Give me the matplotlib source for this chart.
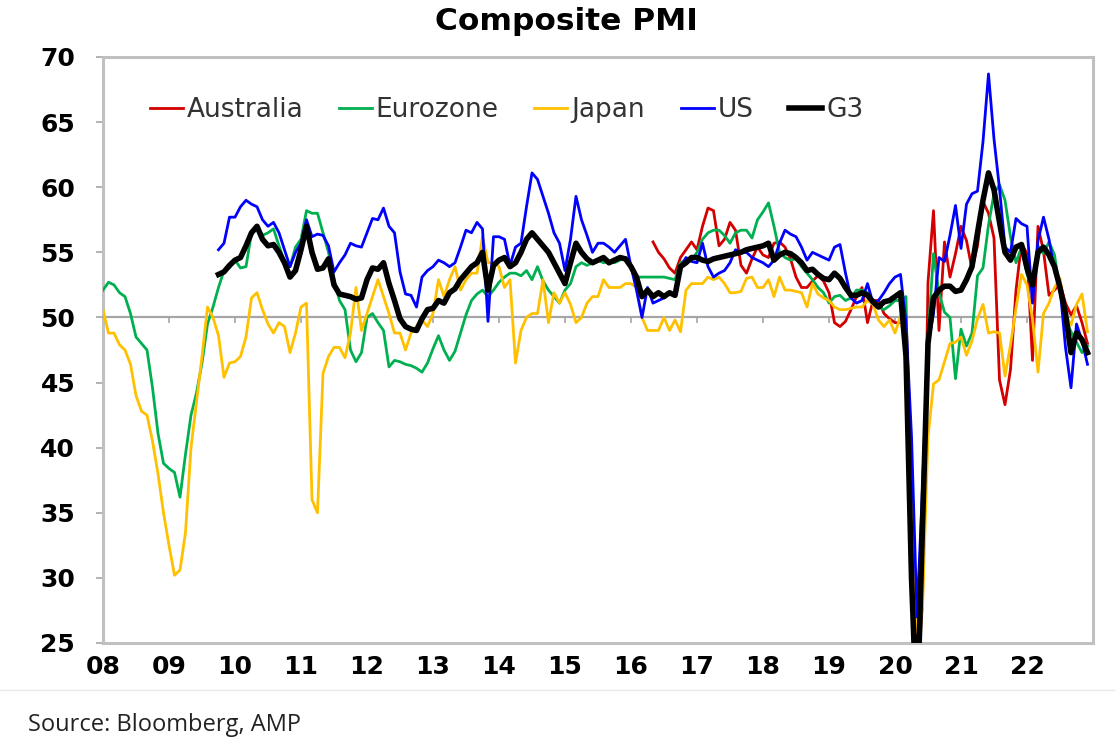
import numpy as np
import pandas as pd
import matplotlib
matplotlib.use("Agg")
import matplotlib.pyplot as plt
from matplotlib.lines import Line2D

# Monthly composite PMI readings, month-end, first value = Dec 2007
JAPAN_START = "2007-12"
japan = [
    50.6, 48.8, 48.8, 47.9, 47.5, 46.4, 44.0, 42.8, 42.5, 40.5, 38.0, 35.0,
    32.5, 30.2, 30.6, 33.5, 40.0, 43.5, 47.0, 50.8, 50.0, 48.6, 45.4, 46.5,
    46.6, 47.0, 48.5, 51.5, 51.9, 50.6, 49.5, 48.8, 49.6, 49.3, 47.3, 48.8,
    50.8, 51.1, 36.0, 35.0, 45.7, 47.0, 47.7, 47.7, 46.9, 48.8, 52.3, 49.0,
    50.3, 51.6, 52.9, 51.6, 50.3, 48.8, 48.8, 47.5, 48.8, 49.3, 49.8, 49.3,
    50.3, 52.9, 51.6, 52.9, 53.9, 52.1, 52.9, 53.4, 53.4, 56.2, 54.2, 54.2,
    53.9, 52.3, 52.9, 46.5, 49.0, 50.0, 50.3, 50.3, 52.9, 49.6, 51.9, 51.1,
    51.9, 51.0, 49.6, 50.0, 51.1, 51.6, 51.6, 52.9, 52.3, 52.3, 52.3, 52.6,
    52.6, 52.3, 50.0, 49.0, 49.0, 49.0, 50.0, 49.0, 49.8, 48.9, 52.1, 52.6,
    52.6, 52.6, 53.1, 52.9, 53.1, 52.6, 51.9, 51.9, 52.0, 53.0, 53.1, 52.3,
    52.3, 52.9, 51.6, 53.1, 52.1, 52.1, 52.0, 51.9, 50.8, 52.6, 51.8, 51.5,
    51.3, 50.8, 50.6, 50.6, 50.7, 50.8, 50.8, 51.3, 51.0, 49.8, 49.3, 49.8,
    48.8, 50.1, 47.0, 36.2, 25.8, 27.8, 40.8, 44.9, 45.2, 46.6, 48.0, 48.1,
    48.5, 47.1, 48.2, 49.9, 51.0, 48.8, 48.9, 48.8, 45.5, 47.9, 50.7, 53.3,
    52.5, 49.9, 45.8, 50.3, 51.1, 52.3, 53.0, 50.2, 49.4, 51.0, 51.8, 48.9,
]

EUROZONE_START = "2007-12"
eurozone = [
    52.1, 52.7, 52.5, 51.9, 51.6, 50.3, 48.5, 48.0, 47.5, 44.6, 41.1, 38.8,
    38.4, 38.1, 36.2, 39.5, 42.5, 44.2, 46.5, 49.5, 50.8, 52.3, 53.6, 53.8,
    54.4, 53.8, 53.9, 56.5, 57.0, 56.3, 56.5, 56.8, 55.5, 54.3, 53.9, 55.4,
    56.0, 58.2, 58.0, 58.0, 56.5, 55.0, 52.9, 51.3, 50.6, 47.5, 46.6, 47.3,
    50.0, 50.3, 49.6, 49.0, 46.2, 46.7, 46.6, 46.4, 46.3, 46.1, 45.8, 46.5,
    47.6, 48.6, 47.5, 46.7, 47.4, 48.8, 50.2, 51.3, 51.8, 52.1, 51.6, 52.1,
    52.7, 53.1, 53.4, 53.4, 53.2, 53.6, 52.9, 53.9, 52.8, 52.1, 51.6, 51.1,
    52.1, 52.6, 53.9, 54.2, 54.0, 54.2, 54.4, 54.2, 54.3, 54.2, 54.4, 54.6,
    53.9, 53.1, 53.1, 53.1, 53.1, 53.1, 53.1, 53.0, 52.9, 54.2, 54.4, 54.4,
    55.0, 56.0, 56.5, 56.7, 56.7, 56.3, 55.7, 56.5, 56.7, 56.7, 56.1, 57.5,
    58.1, 58.8, 57.0, 55.0, 54.6, 54.4, 54.5, 53.9, 53.4, 52.9, 52.3, 51.9,
    51.1, 51.6, 51.7, 51.3, 51.5, 52.1, 52.1, 51.9, 51.3, 50.8, 50.6, 50.9,
    51.3, 51.3, 51.6, 29.7, 13.6, 31.9, 48.5, 54.9, 51.9, 50.4, 50.0, 45.3,
    49.1, 47.8, 48.8, 53.2, 53.8, 57.1, 59.5, 60.2, 59.0, 56.2, 54.2, 55.4,
    53.3, 52.3, 55.5, 54.9, 55.8, 54.8, 52.0, 49.9, 48.9, 48.1, 47.3, 47.8,
]

US_START = "2009-09"
us = [
    55.2, 55.7, 57.7,
    57.7, 58.5, 59.0, 58.7, 58.5, 57.5, 57.0, 57.3, 56.5, 55.2, 53.9, 55.0,
    55.7, 57.5, 56.2, 56.4, 56.3, 55.5, 53.5, 54.2, 54.8, 55.7, 55.5, 55.4,
    56.5, 57.6, 57.5, 58.4, 57.0, 56.5, 53.5, 51.8, 51.7, 50.8, 53.1, 53.6,
    53.9, 54.4, 54.2, 53.9, 54.2, 55.4, 56.7, 56.5, 57.3, 56.8, 49.7, 56.2,
    56.2, 56.0, 54.0, 55.4, 55.7, 58.5, 61.1, 60.6, 59.3, 58.0, 56.5, 55.7,
    53.6, 56.0, 59.3, 57.5, 56.3, 55.0, 55.7, 55.7, 55.4, 55.0, 55.5, 56.0,
    53.9, 52.1, 50.0, 52.3, 51.1, 51.3, 51.5, 51.9, 51.6, 53.9, 54.6, 54.3,
    54.2, 55.7, 53.9, 53.1, 53.4, 53.6, 54.2, 55.2, 55.0, 55.0, 54.6, 54.4,
    54.2, 53.9, 54.4, 55.7, 56.7, 56.4, 56.2, 55.4, 54.4, 55.0, 54.8, 54.6,
    54.4, 55.4, 55.6, 53.4, 51.5, 51.1, 51.3, 52.6, 51.1, 51.3, 51.9, 52.6,
    53.1, 53.3, 49.6, 40.9, 27.0, 37.0, 47.9, 50.3, 54.6, 54.3, 56.3, 58.6,
    55.3, 58.7, 59.5, 59.7, 63.5, 68.7, 63.7, 59.9, 55.4, 55.0, 57.6, 57.2,
    57.0, 51.1, 55.9, 57.7, 56.0, 53.6, 52.3, 47.7, 44.6, 49.5, 48.2, 46.4,
]

AUSTRALIA_START = "2016-04"
australia = [
    55.8, 55.0, 54.5, 53.8, 53.4, 54.6, 55.2, 55.8,
    55.2, 57.0, 58.4, 58.2, 55.5, 56.0, 57.3, 56.7, 54.0, 53.4, 54.5, 55.4,
    54.8, 54.6, 55.7, 55.8, 55.4, 54.5, 53.1, 52.3, 52.3, 52.8, 53.2, 52.8,
    51.9, 49.6, 49.3, 49.7, 50.6, 51.6, 52.3, 49.6, 51.3, 51.3, 50.3, 49.9,
    49.6, 49.6, 50.2, 38.5, 21.7, 28.1, 52.7, 58.2, 49.0, 55.8, 53.1, 54.9,
    57.0, 55.9, 53.7, 55.5, 58.9, 58.0, 56.1, 45.2, 43.3, 46.0, 52.1, 55.7,
    54.9, 46.7, 57.0, 55.1, 51.7, 52.1, 52.6, 51.1, 50.2, 50.9, 49.6, 48.0,
]

G3_START = "2009-09"
g3 = [
    53.3, 53.5, 54.0,
    54.4, 54.6, 55.5, 56.5, 57.0, 56.0, 55.5, 55.6, 55.0, 54.2, 53.1, 53.6,
    55.2, 57.0, 55.0, 53.7, 53.8, 54.5, 52.5, 51.8, 51.7, 51.6, 51.4, 51.5,
    52.9, 53.8, 53.7, 54.2, 52.6, 51.3, 49.9, 49.3, 49.1, 49.0, 49.9, 50.6,
    50.7, 51.3, 51.1, 51.9, 52.2, 52.9, 53.4, 53.9, 54.2, 55.0, 52.1, 54.0,
    54.4, 54.6, 53.9, 54.2, 55.0, 56.0, 56.5, 56.0, 55.5, 55.0, 54.2, 53.4,
    52.6, 54.2, 55.7, 55.0, 54.5, 54.2, 54.4, 54.6, 54.2, 54.4, 54.6, 54.5,
    53.9, 53.1, 51.6, 52.1, 51.6, 51.9, 51.6, 51.9, 51.7, 53.9, 54.2, 54.6,
    54.6, 54.4, 54.3, 54.5, 54.6, 54.7, 54.8, 54.9, 55.0, 55.2, 55.3, 55.4,
    55.5, 55.7, 54.4, 54.8, 55.0, 54.9, 54.6, 54.2, 53.6, 53.7, 53.3, 53.0,
    52.9, 53.4, 53.0, 52.3, 51.7, 51.7, 51.9, 51.7, 51.2, 50.8, 51.2, 51.3,
    51.6, 51.9, 47.0, 30.0, 19.0, 34.0, 48.0, 51.5, 52.1, 52.4, 52.4, 52.0,
    52.1, 52.9, 53.9, 56.5, 59.0, 61.1, 59.8, 57.3, 55.0, 54.4, 55.4, 55.6,
    53.8, 52.5, 55.0, 55.4, 54.8, 53.9, 52.3, 50.3, 47.3, 48.8, 48.3, 47.3,
]

YEARS = list(range(2008, 2023))
YEAR_LABELS = [f"{y % 100:02d}" for y in YEARS]
Y_TICKS = list(range(25, 71, 5))

FRAME = "#C0C0C0"
AXIS_GREY = "#A6A6A6"


def month_axis(start, n):
    """Month-end positions as fractional years (Dec 2007 -> 2008.0)."""
    p = pd.period_range(start, periods=n, freq="M")
    return np.asarray(p.year + p.month / 12.0, dtype=float)


def main():
    fig = plt.figure(figsize=(11.2, 7.54), dpi=100)
    ax = fig.add_axes([103 / 1120, 1 - 643 / 754, 990 / 1120, 586 / 754])

    series = [
        ("Australia", AUSTRALIA_START, australia, "#D40000", 2.0),
        ("Eurozone", EUROZONE_START, eurozone, "#00B050", 2.0),
        ("Japan", JAPAN_START, japan, "#FFC000", 2.0),
        ("US", US_START, us, "#0000FF", 2.0),
        ("G3", G3_START, g3, "#000000", 4.0),
    ]
    for name, start, vals, color, lw in series:
        x = month_axis(start, len(vals))
        ax.plot(x, vals, color=color, lw=lw, label=name, zorder=3,
                solid_joinstyle="round")

    ax.set_xlim(2008, 2023)
    ax.set_ylim(25, 70)

    # frame
    for side in ["left", "top", "right"]:
        ax.spines[side].set_color(FRAME)
        ax.spines[side].set_linewidth(2.2)
    # x axis crosses at 50
    ax.spines["bottom"].set_position(("data", 50))
    ax.spines["bottom"].set_color(AXIS_GREY)
    ax.spines["bottom"].set_linewidth(1.6)
    ax.set_xticks(YEARS)
    ax.tick_params(axis="x", length=4.5, width=1.2, color=AXIS_GREY,
                   labelbottom=False)

    ax.set_yticks(Y_TICKS, labels=[str(v) for v in Y_TICKS],
                  fontsize=18, fontweight="bold")
    ax.tick_params(axis="y", length=5, width=1.2, color=AXIS_GREY, pad=15)

    # year labels along the bottom edge
    sec = ax.secondary_xaxis(0.0)
    sec.set_xticks(YEARS, labels=YEAR_LABELS, fontsize=18, fontweight="bold")
    sec.tick_params(length=0, pad=9)
    sec.spines["bottom"].set_color(FRAME)
    sec.spines["bottom"].set_linewidth(2.2)

    ax.legend(loc="center left", bbox_to_anchor=(0.047, 0.91), ncol=5,
              frameon=False, fontsize=19, handlelength=1.25,
              handletextpad=0.15, columnspacing=1.35, borderpad=0,
              borderaxespad=0, labelcolor="#333333")

    fig.text(0.506, 0.972, "Composite PMI", ha="center", va="center",
             fontsize=22.5, fontweight="bold")
    fig.add_artist(Line2D([0, 0.995], [1 - 690 / 754] * 2,
                          transform=fig.transFigure, color="#E8E8E8", lw=1))
    fig.text(28 / 1120, 1 - 725 / 754, "Source: Bloomberg, AMP",
             family="Open Sans", fontsize=17, va="center", color="#222222")

    fig.savefig("out.png", dpi=100)
    plt.close(fig)


if __name__ == "__main__":
    main()
